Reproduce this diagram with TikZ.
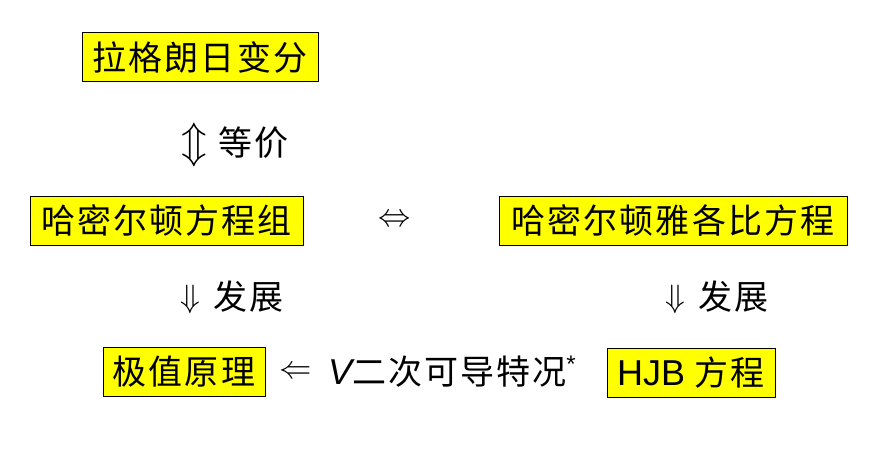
\documentclass[tikz,border=0pt]{standalone}
\usepackage{fontspec}
\setmainfont{Liberation Sans}
\newfontfamily\latinsans{Liberation Sans}
\newfontfamily\cjk[LetterSpace=6]{Noto Sans CJK SC}
\definecolor{boxyellow}{HTML}{FFFF00}

\tikzset{
  keybox/.style={draw=black, line width=0.9pt, fill=boxyellow,
    minimum height=49pt, inner sep=0pt, text=black,
    font=\cjk\fontsize{34}{34}\selectfont},
  relation/.style={inner sep=0pt, text=black,
    font=\cjk\fontsize{34}{34}\selectfont},
  sym/.style={inner sep=0pt, scale=1.3, font=\fontsize{24.88}{25}\selectfont},
}

\begin{document}
\begin{tikzpicture}[x=1pt, y=-1pt]
  \path[use as bounding box, fill=white] (0,0) rectangle (880,473);

  % boxed concepts
  \node[keybox, minimum width=236pt] (lag)  at (200,57)    {拉格朗日变分};
  \node[keybox, minimum width=273pt] (ham)  at (166.5,220.5) {哈密尔顿方程组};
  \node[keybox, minimum width=348pt] (hjac) at (673,220.5) {哈密尔顿雅各比方程};
  \node[keybox, minimum width=162pt] (ext)  at (184,372)   {极值原理};
  \node[keybox, minimum width=168pt] (hjb)  at (691,372.5)
    {{\latinsans\fontsize{36}{36}\selectfont HJB} 方程};

  % relations between them
  \node[sym, scale=1.3] (eqarrow) at (194,145) {$\Updownarrow$};
  \node[relation, anchor=west] (eqtext) at (218,143) {等价};

  \node[sym] (lrarrow) at (395,221) {$\Leftrightarrow$};

  \node[sym] (devarrowL) at (190,299) {$\Downarrow$};
  \node[relation, anchor=west] (devtextL) at (213,297) {发展};

  \node[sym] (devarrowR) at (675,299) {$\Downarrow$};
  \node[relation, anchor=west] (devtextR) at (698,297) {发展};

  \node[sym] (larrow) at (296,373) {$\Leftarrow$};
  \node[relation, anchor=west] (cond) at (328,372)
    {{\latinsans\itshape\fontsize{36}{36}\selectfont V}二次可导特况\raisebox{12pt}{\latinsans\fontsize{24}{24}\selectfont *}};
\end{tikzpicture}
\end{document}
